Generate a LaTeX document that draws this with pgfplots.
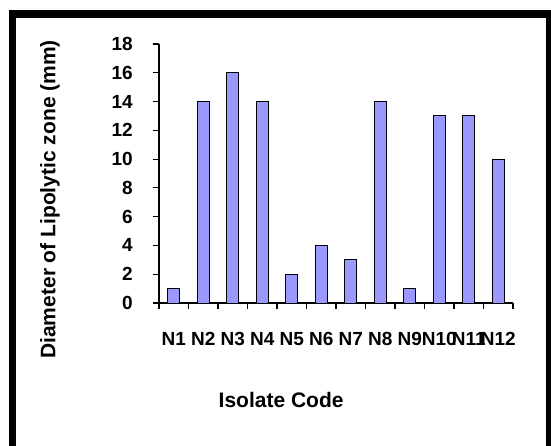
\documentclass[border=0pt]{standalone}
\usepackage{pgfplots}
\pgfplotsset{compat=1.18}
\usepackage{fontspec}
\setmainfont{Liberation Sans}
\definecolor{barfill}{HTML}{9999FF}
\begin{document}
\begin{tikzpicture}[x=1pt,y=1pt]
\clip (0,0) rectangle (551,-445);
\useasboundingbox (0,0) rectangle (551,-445);
\fill[white] (0,0) rectangle (551,-445);
\draw[line width=7.5pt] (12.5,-13.75) rectangle (550,-470);
\begin{axis}[
  at={(159pt,-303pt)}, anchor=south west,
  scale only axis, width=354pt, height=259pt,
  xmin=0.5, xmax=12.5, ymin=0, ymax=18,
  axis x line*=bottom, axis y line*=left,
  axis line style={line width=1.2pt, -},
  tick style={line width=1.2pt, black},
  tick align=outside, major tick length=6pt,
  /pgf/number format/assume math mode=true,
  ytick={0,2,...,18},
  xtick={0.5,1.5,...,12.5}, xticklabels={},
  extra x ticks={1,2,...,12},
  extra x tick labels={N1,N2,N3,N4,N5,N6,N7,N8,N9,N10,N11,N12},
  extra x tick style={major tick length=0pt,
     xticklabel style={inner sep=0pt, anchor=north, yshift=-29.5pt}},
  yticklabel style={inner sep=0pt, anchor=east, xshift=-20pt},
  ticklabel style={font=\bfseries\fontsize{19}{19}\selectfont},
  label style={font=\bfseries\fontsize{21}{21}\selectfont},
  xlabel={Isolate Code},
  ylabel={Diameter of Lipolytic zone (mm)},
  xlabel style={at={(axis description cs:0.345,0)}, anchor=center, yshift=-97pt},
  ylabel style={at={(axis description cs:-0.308,0.40)}, anchor=center},
  ybar, bar width=12.3pt,
  clip=false,
]
\addplot[fill=barfill, draw=black, line width=1pt] coordinates {
  (1,1) (2,14) (3,16) (4,14) (5,2) (6,4) (7,3) (8,14) (9,1) (10,13) (11,13) (12,10)
};
\end{axis}
\end{tikzpicture}
\end{document}
